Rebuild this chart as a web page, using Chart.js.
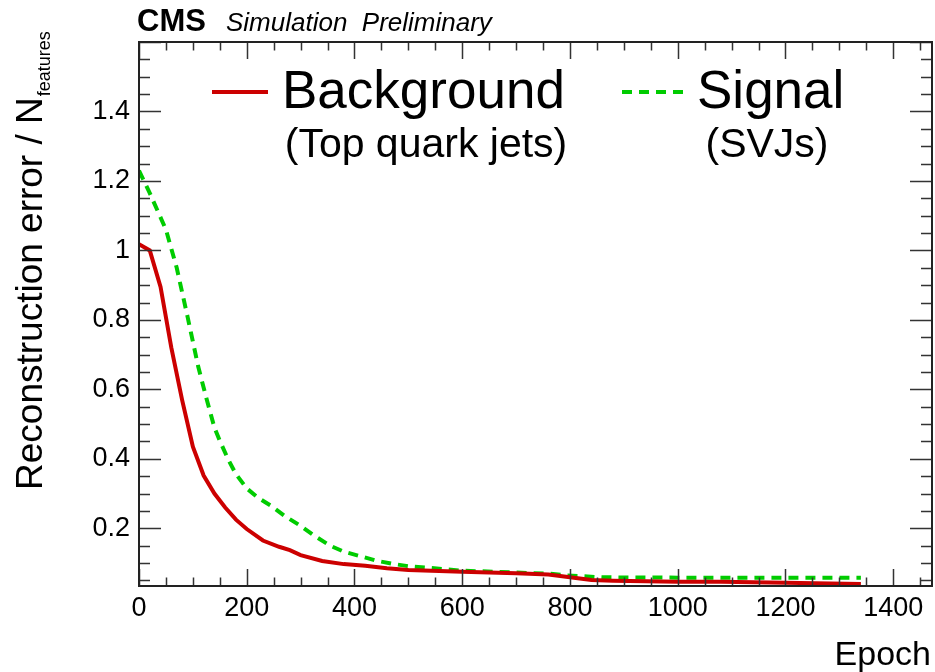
<!DOCTYPE html>
<html>
<head>
<meta charset="utf-8">
<script src="https://cdn.jsdelivr.net/npm/chart.js@4.4.1/dist/chart.umd.min.js"></script>
<style>
  html, body { margin: 0; padding: 0; background: #fff; }
</style>
</head>
<body>
<canvas id="lossChart" width="935" height="672"></canvas>
<script>
// values
const epochsBkg = [0, 20, 40, 60, 80, 100, 120, 140, 160, 180, 200, 230, 260, 280, 300, 340, 380, 420, 460, 500, 600, 700, 760, 800, 840, 880, 1000, 1080, 1200, 1340];
const lossBkg = [1.018, 1.0, 0.895, 0.72, 0.57, 0.435, 0.352, 0.30, 0.26, 0.225, 0.198, 0.165, 0.147, 0.137, 0.123, 0.106, 0.097, 0.092, 0.085, 0.080, 0.075, 0.071, 0.067, 0.059, 0.051, 0.049, 0.046, 0.046, 0.043, 0.040];

const epochsSig = [0, 20, 50, 70, 90, 110, 125, 140, 150, 165, 180, 200, 220, 245, 270, 300, 325, 355, 380, 415, 440, 470, 500, 540, 570, 600, 660, 730, 760, 795, 825, 860, 1000, 1200, 1340];
const lossSig = [1.23, 1.165, 1.06, 0.95, 0.81, 0.665, 0.575, 0.49, 0.452, 0.40, 0.356, 0.315, 0.289, 0.265, 0.236, 0.207, 0.179, 0.150, 0.133, 0.118, 0.107, 0.098, 0.091, 0.086, 0.082, 0.078, 0.075, 0.071, 0.070, 0.064, 0.062, 0.059, 0.058, 0.058, 0.058];

const xTicks = [0, 200, 400, 600, 800, 1000, 1200, 1400];
const yTicks = [0.2, 0.4, 0.6, 0.8, 1, 1.2, 1.4];
const seriesNames = ['Background', 'Signal'];
const seriesNotes = ['(Top quark jets)', '(SVJs)'];

const FONT = '"Liberation Sans", Arial, Helvetica, sans-serif';

function pts(xs, ys) {
  return xs.map((x, i) => ({ x: x, y: ys[i] }));
}

// ROOT style frame with inward ticks on all four sides
const frameTicks = {
  id: 'frameTicks',
  afterDatasetsDraw(chart) {
    const { ctx, chartArea: a, scales } = chart;
    const xs = scales.x, ys = scales.y;
    ctx.save();
    ctx.strokeStyle = '#333';
    ctx.lineWidth = 1.5;
    ctx.beginPath();
    for (let v = 0; v <= xs.max; v += 50) {
      const px = Math.round(xs.getPixelForValue(v)) + 0.5;
      const len = v % 200 === 0 ? 17 : 8.5;
      ctx.moveTo(px, a.bottom); ctx.lineTo(px, a.bottom - len);
      ctx.moveTo(px, a.top); ctx.lineTo(px, a.top + len);
    }
    for (let k = 1; k * 0.05 <= ys.max + 1e-9; k++) {
      const v = k * 0.05;
      if (v < ys.min) continue;
      const py = Math.round(ys.getPixelForValue(v)) + 0.5;
      const len = k % 4 === 0 ? 22 : 11;
      ctx.moveTo(a.left, py); ctx.lineTo(a.left + len, py);
      ctx.moveTo(a.right, py); ctx.lineTo(a.right - len, py);
    }
    ctx.stroke();
    ctx.strokeStyle = '#222';
    ctx.lineWidth = 2;
    ctx.strokeRect(a.left, a.top, a.right - a.left, a.bottom - a.top);
    ctx.restore();
  }
};

// titles, CMS label and two-line legend
const labels = {
  id: 'labels',
  afterDraw(chart) {
    const ctx = chart.ctx;
    const ds = chart.data.datasets;
    ctx.save();
    ctx.fillStyle = '#000';
    ctx.textBaseline = 'alphabetic';

    ctx.font = 'bold 31px ' + FONT;
    ctx.textAlign = 'left';
    ctx.fillText('CMS', 137, 31);
    ctx.font = 'italic 26px ' + FONT;
    ctx.fillText('Simulation  Preliminary', 226, 31);

    ctx.font = '34px ' + FONT;
    ctx.textAlign = 'right';
    ctx.fillText('Epoch', 931, 665);

    ctx.translate(42, 490);
    ctx.rotate(-Math.PI / 2);
    ctx.textAlign = 'left';
    ctx.font = '37px ' + FONT;
    const main = 'Reconstruction error / N';
    ctx.fillText(main, 0, 0);
    const w = ctx.measureText(main).width;
    ctx.font = '18px ' + FONT;
    ctx.fillText('features', w + 1, 8);
    ctx.setTransform(1, 0, 0, 1, 0, 0);

    const items = [
      { x0: 212, x1: 268, tx: 282, cx: 426 },
      { x0: 622, x1: 683, tx: 697, cx: 767 }
    ];
    items.forEach((it, i) => {
      ctx.strokeStyle = ds[i].borderColor;
      ctx.lineWidth = 4;
      ctx.setLineDash(ds[i].borderDash || []);
      ctx.beginPath();
      ctx.moveTo(it.x0, 92);
      ctx.lineTo(it.x1, 92);
      ctx.stroke();
      ctx.setLineDash([]);
      ctx.textAlign = 'left';
      ctx.font = '53px ' + FONT;
      ctx.fillText(seriesNames[i], it.tx, 108);
      ctx.textAlign = 'center';
      ctx.font = '41px ' + FONT;
      ctx.fillText(seriesNotes[i], it.cx, 157);
    });
    ctx.restore();
  }
};

const ctx1 = document.getElementById('lossChart').getContext('2d');
const lossChart = new Chart(ctx1, {
  type: 'line',
  data: {
    datasets: [{
      label: seriesNames[0],
      data: pts(epochsBkg, lossBkg),
      borderColor: 'rgb(204, 0, 0)',
      borderWidth: 4,
      pointRadius: 0,
      tension: 0,
      fill: false
    }, {
      label: seriesNames[1],
      data: pts(epochsSig, lossSig),
      borderColor: 'rgb(0, 204, 0)',
      borderWidth: 4,
      borderDash: [10, 7],
      pointRadius: 0,
      tension: 0,
      fill: false
    }]
  },
  options: {
    responsive: false,
    animation: false,
    devicePixelRatio: 1,
    layout: { padding: { left: 0, right: 3, top: 42, bottom: 0 } },
    plugins: {
      legend: { display: false },
      tooltip: { enabled: false }
    },
    scales: {
      x: {
        type: 'linear',
        min: 0,
        max: 1472,
        afterBuildTicks: s => { s.ticks = xTicks.map(v => ({ value: v })); },
        afterFit: s => { s.height = 86; },
        grid: { display: false, drawTicks: false },
        border: { display: false },
        ticks: {
          padding: 6,
          autoSkip: false,
          maxRotation: 0,
          color: '#000',
          font: { family: FONT, size: 27 },
          callback: v => String(v)
        }
      },
      y: {
        min: 0.034,
        max: 1.6,
        afterBuildTicks: s => { s.ticks = yTicks.map(v => ({ value: v })); },
        afterFit: s => { s.width = 139; },
        grid: { display: false, drawTicks: false },
        border: { display: false },
        ticks: {
          padding: 9,
          color: '#000',
          font: { family: FONT, size: 27 },
          callback: v => String(Math.round(v * 10) / 10)
        }
      }
    }
  },
  plugins: [frameTicks, labels]
});
</script>
</body>
</html>
